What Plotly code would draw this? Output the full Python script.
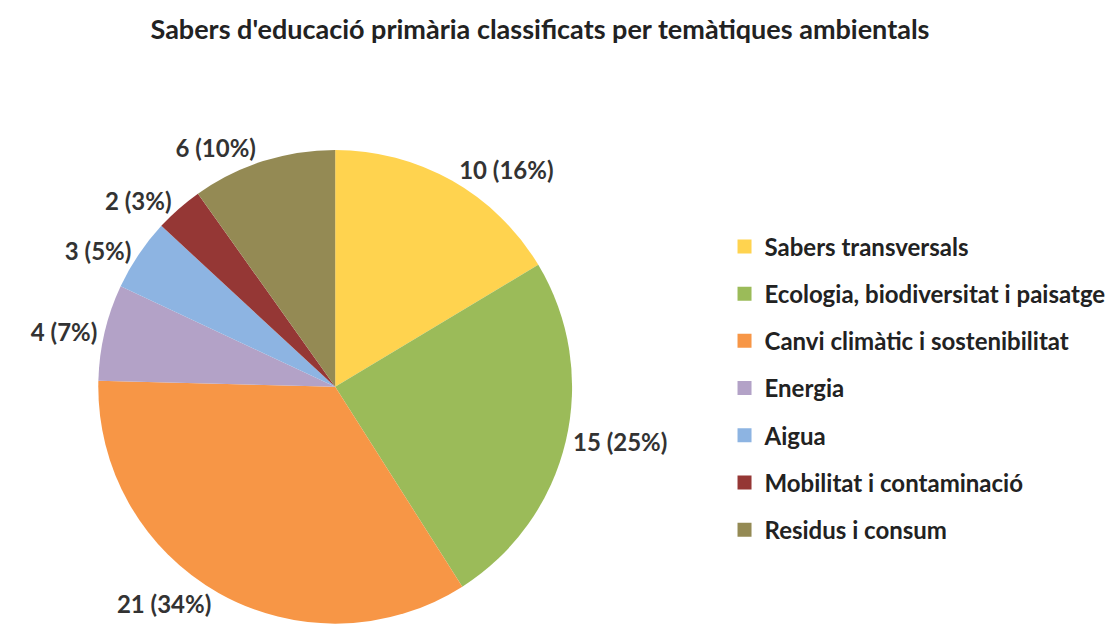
import plotly.graph_objects as go

categories = ["Sabers transversals", "Ecologia, biodiversitat i paisatge",
              "Canvi climàtic i sostenibilitat", "Energia", "Aigua",
              "Mobilitat i contaminació", "Residus i consum"]
values = [10, 15, 21, 4, 3, 2, 6]
colors = ["#FFD34F", "#9BBB59", "#F79646", "#B3A2C7", "#8DB4E2", "#953735", "#948A54"]

total = sum(values)
texts = [f"{v} ({round(100 * v / total)}%)" for v in values]

FONT = "Lato"

fig = go.Figure()
fig.add_trace(go.Pie(
    labels=categories, values=values, text=texts,
    textinfo="text", textposition="outside",
    sort=False, direction="clockwise", rotation=0,
    marker=dict(colors=colors, line=dict(width=0)),
    textfont=dict(family=FONT, size=24, color="#333333", weight="bold"),
    showlegend=False,
    domain=dict(x=[0.0085, 0.4785], y=[0.041, 0.779]),
))

for c, col in zip(categories, colors):
    fig.add_trace(go.Scatter(
        x=[None], y=[None], mode="markers", name=c, legendgroup=c,
        marker=dict(symbol="square", size=14, color=col),
    ))

fig.update_layout(
    width=1120, height=642,
    paper_bgcolor="white", plot_bgcolor="white",
    margin=dict(l=0, r=0, t=0, b=0),
    title=dict(text="Sabers d'educació primària classificats per temàtiques ambientals",
               x=0.475, xanchor="center", y=0.967, yanchor="middle",
               font=dict(family=FONT, size=27, color="#222222", weight="bold")),
    legend=dict(x=0.615, xanchor="left", y=0.663, yanchor="top",
                font=dict(family=FONT, size=24, color="#222222", weight="bold"),
                tracegroupgap=13, itemwidth=30, bgcolor="rgba(0,0,0,0)"),
    xaxis=dict(visible=False), yaxis=dict(visible=False),
)

fig.write_html("out.html")
